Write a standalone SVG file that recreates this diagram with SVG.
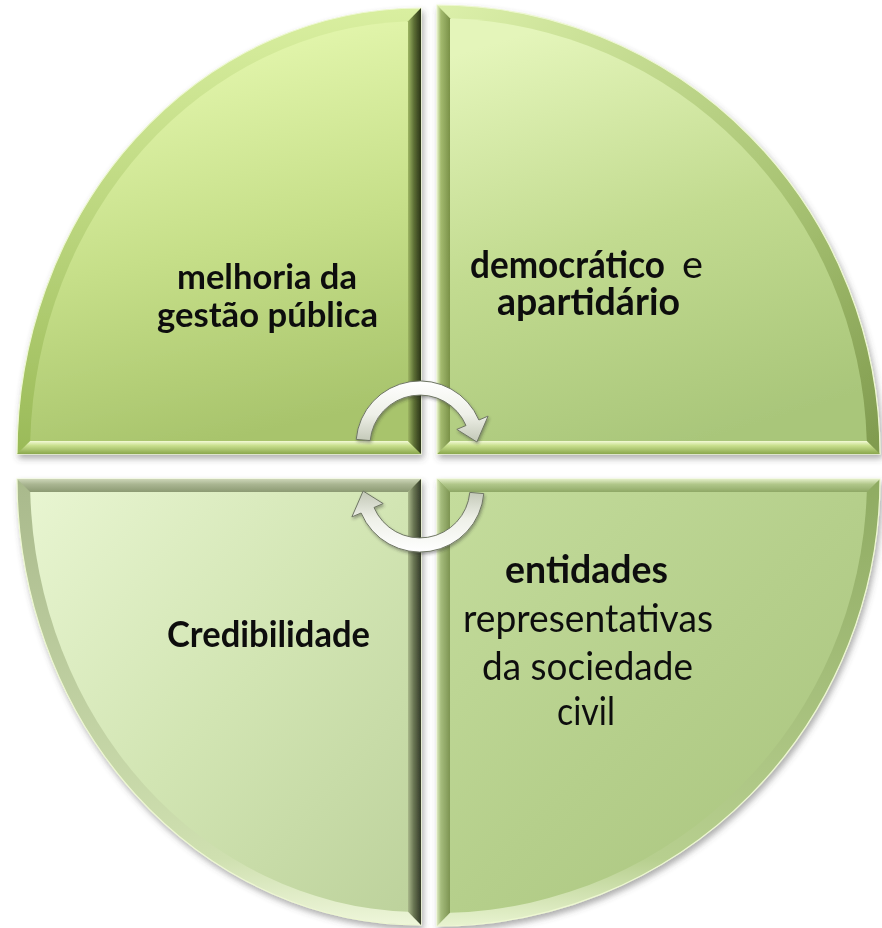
<svg xmlns="http://www.w3.org/2000/svg" width="882" height="928" viewBox="0 0 882 928">
<style>
.b{font-family:Lato,"Liberation Sans",sans-serif;font-weight:700;fill:#111;}
.r{font-family:Lato,"Liberation Sans",sans-serif;font-weight:400;fill:#111;}
.rim{stroke:#eef8d2;stroke-width:1.2;}
.arrow{fill:url(#gArrow);stroke:#6f7664;stroke-width:1;}
</style>
<defs>
<filter id="sh" x="-10%" y="-10%" width="120%" height="120%">
<feDropShadow dx="2" dy="4" stdDeviation="3" flood-color="#4a4a4a" flood-opacity="0.45"/>
</filter>
<filter id="ash" x="-20%" y="-20%" width="140%" height="140%">
<feDropShadow dx="1" dy="2" stdDeviation="1.5" flood-color="#333" flood-opacity="0.4"/>
</filter>
<linearGradient id="gTLin" x1="0.3" y1="0" x2="0.5" y2="1">
<stop offset="0" stop-color="#e8fab3"/><stop offset="0.55" stop-color="#c6df89"/><stop offset="1" stop-color="#a8c46c"/>
</linearGradient>
<linearGradient id="gTRin" x1="0.3" y1="0" x2="0.6" y2="1">
<stop offset="0" stop-color="#e4f5ba"/><stop offset="0.5" stop-color="#c2db90"/><stop offset="1" stop-color="#a9c67a"/>
</linearGradient>
<linearGradient id="gBLin" x1="0" y1="0" x2="1" y2="1">
<stop offset="0" stop-color="#e8f5d1"/><stop offset="0.5" stop-color="#d2e5b3"/><stop offset="1" stop-color="#bdd29c"/>
</linearGradient>
<linearGradient id="gBRin" x1="0" y1="0" x2="1" y2="1">
<stop offset="0" stop-color="#c4dc9c"/><stop offset="0.5" stop-color="#b5cf8b"/><stop offset="1" stop-color="#a8c37d"/>
</linearGradient>
<linearGradient id="gTLout" x1="0" y1="0" x2="0" y2="1">
<stop offset="0" stop-color="#d9efa0"/><stop offset="1" stop-color="#9aba58"/>
</linearGradient>
<linearGradient id="gTRout" x1="0" y1="0" x2="1" y2="1">
<stop offset="0" stop-color="#dcf0aa"/><stop offset="0.6" stop-color="#a9c474"/><stop offset="1" stop-color="#7f9a4e"/>
</linearGradient>
<linearGradient id="gBLout" x1="0" y1="0" x2="0" y2="1">
<stop offset="0" stop-color="#a9b98c"/><stop offset="0.85" stop-color="#cfe0b0"/><stop offset="1" stop-color="#eef6da"/>
</linearGradient>
<linearGradient id="gBRout" x1="0" y1="0" x2="0" y2="1">
<stop offset="0" stop-color="#8fab62"/><stop offset="0.85" stop-color="#b7cf8f"/><stop offset="1" stop-color="#e8f3d0"/>
</linearGradient>
<linearGradient id="gBotBand" x1="0" y1="0" x2="0" y2="1">
<stop offset="0" stop-color="#f3fad6"/><stop offset="0.35" stop-color="#c9e08e"/><stop offset="1" stop-color="#8aa74e"/>
</linearGradient>
<linearGradient id="gDarkR" x1="0" y1="0" x2="1" y2="0">
<stop offset="0" stop-color="#9db563"/><stop offset="0.45" stop-color="#5e7036"/><stop offset="1" stop-color="#2a3318"/>
</linearGradient>
<linearGradient id="gDarkRB" x1="0" y1="0" x2="1" y2="0">
<stop offset="0" stop-color="#a9b88a"/><stop offset="0.45" stop-color="#687452"/><stop offset="1" stop-color="#333a28"/>
</linearGradient>
<linearGradient id="gLeftT" x1="0" y1="0" x2="1" y2="0">
<stop offset="0" stop-color="#e6f2c8"/><stop offset="0.3" stop-color="#a3ba6e"/><stop offset="1" stop-color="#7a9148"/>
</linearGradient>
<linearGradient id="gLeftB" x1="0" y1="0" x2="1" y2="0">
<stop offset="0" stop-color="#dbe8bd"/><stop offset="0.3" stop-color="#a5bc7c"/><stop offset="1" stop-color="#7d9452"/>
</linearGradient>
<linearGradient id="gTopBL" x1="0" y1="0" x2="0" y2="1">
<stop offset="0" stop-color="#cdd6b8"/><stop offset="0.4" stop-color="#aab692"/><stop offset="1" stop-color="#8c9a73"/>
</linearGradient>
<linearGradient id="gTopBR" x1="0" y1="0" x2="0" y2="1">
<stop offset="0" stop-color="#e3eec8"/><stop offset="0.4" stop-color="#b1c78a"/><stop offset="1" stop-color="#8fa866"/>
</linearGradient>
<linearGradient id="gArrow" x1="0" y1="0" x2="0" y2="1">
<stop offset="0" stop-color="#ffffff"/><stop offset="0.55" stop-color="#eef0e8"/><stop offset="1" stop-color="#c2c7b6"/>
</linearGradient>
</defs>

<rect width="882" height="928" fill="#ffffff"/>

<g id="q-tl" filter="url(#sh)">
<path class="rim" d="M421,454 L17,454 A404,446 0 0 1 421,8 Z" fill="url(#gTLout)"/>
<path d="M408,441 L30.2,441 A391,433 0 0 1 408,21.2 Z" fill="url(#gTLin)"/>
<polygon points="17,454 421,454 408,441 30.2,441" fill="url(#gBotBand)"/>
<polygon points="421,454 421,8 408,21.2 408,441" fill="url(#gDarkR)"/>
<text class="b" font-size="35"><tspan x="177" y="289" textLength="180" lengthAdjust="spacingAndGlyphs">melhoria da</tspan><tspan x="157" y="327" textLength="221" lengthAdjust="spacingAndGlyphs">gestão pública</tspan></text>
</g>

<g id="q-tr" filter="url(#sh)">
<path class="rim" d="M437,454 L437,5 A443,449 0 0 1 880,454 Z" fill="url(#gTRout)"/>
<path d="M450,441 L450,18.2 A430,436 0 0 1 866.8,441 Z" fill="url(#gTRin)"/>
<polygon points="437,454 880,454 866.8,441 450,441" fill="url(#gBotBand)"/>
<polygon points="437,454 437,5 450,18.2 450,441" fill="url(#gLeftT)"/>
<text font-size="38"><tspan class="b" x="470" y="278" textLength="195" lengthAdjust="spacingAndGlyphs">democrático</tspan><tspan class="r" x="682" y="278" textLength="21" lengthAdjust="spacingAndGlyphs">e</tspan><tspan class="b" x="497" y="315" textLength="183" lengthAdjust="spacingAndGlyphs">apartidário</tspan></text>
</g>

<g id="q-bl" filter="url(#sh)">
<path class="rim" d="M421,479 L421,925 A404,446 0 0 1 17,479 Z" fill="url(#gBLout)"/>
<path d="M408,492 L408,911.8 A391,433 0 0 1 30.2,492 Z" fill="url(#gBLin)"/>
<polygon points="17,479 421,479 408,492 30.2,492" fill="url(#gTopBL)"/>
<polygon points="421,479 421,925 408,911.8 408,492" fill="url(#gDarkRB)"/>
<text class="b" x="167" y="647" font-size="36" textLength="203" lengthAdjust="spacingAndGlyphs">Credibilidade</text>
</g>

<g id="q-br" filter="url(#sh)">
<path class="rim" d="M437,479 L880,479 A443,447 0 0 1 437,926 Z" fill="url(#gBRout)"/>
<path d="M450,492 L866.8,492 A430,434 0 0 1 450,912.8 Z" fill="url(#gBRin)"/>
<polygon points="437,479 880,479 866.8,492 450,492" fill="url(#gTopBR)"/>
<polygon points="437,479 437,926 450,912.8 450,492" fill="url(#gLeftB)"/>
<text font-size="39"><tspan class="b" x="505" y="583" textLength="163" lengthAdjust="spacingAndGlyphs">entidades</tspan><tspan class="r" x="463" y="632" textLength="250" lengthAdjust="spacingAndGlyphs">representativas</tspan><tspan class="r" x="482" y="680" textLength="211" lengthAdjust="spacingAndGlyphs">da sociedade</tspan><tspan class="r" x="557" y="725" textLength="58" lengthAdjust="spacingAndGlyphs">civil</tspan></text>
</g>

<g id="connectors" filter="url(#ash)">
<path id="arrow-top" class="arrow" d="M356.2,439.4 A64,64 0 0 1 478.9,420.0 L488.1,416.1 L476.9,442.0 L456.8,429.4 L466.0,425.5 A50,50 0 0 0 370.2,440.6 Z"/>
<path id="arrow-bottom" class="arrow" transform="rotate(180 420 466.5)" d="M356.2,439.4 A64,64 0 0 1 478.9,420.0 L488.1,416.1 L476.9,442.0 L456.8,429.4 L466.0,425.5 A50,50 0 0 0 370.2,440.6 Z"/>
</g>
</svg>
